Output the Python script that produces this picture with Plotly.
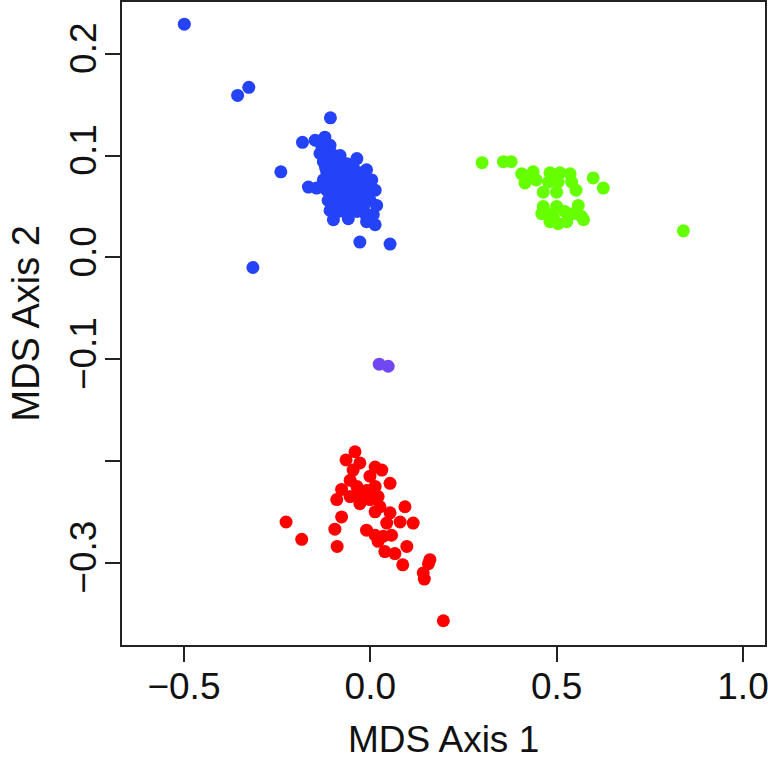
import plotly.graph_objects as go

# MDS coordinates
blue_x = [-0.148, -0.122, -0.130, -0.108, -0.104, -0.081, -0.126, -0.108, -0.086, -0.063,
          -0.046, -0.117, -0.095, -0.072, -0.050, -0.028, -0.010, -0.126, -0.104, -0.081,
          -0.059, -0.036, -0.014, 0.004, -0.144, -0.166, -0.117, -0.095, -0.072, -0.050,
          -0.028, -0.005, 0.013, -0.113, -0.090, -0.068, -0.046, -0.023, -0.001, 0.017,
          -0.108, -0.086, -0.063, -0.036, -0.014, 0.008, -0.099, -0.059, -0.010, 0.013,
          -0.036, -0.028, 0.053, -0.107, -0.182, -0.240, -0.499, -0.356, -0.326, -0.315,
          -0.120, -0.098, -0.076, -0.054, -0.032, -0.110, -0.088, -0.066, -0.044, -0.022,
          -0.135, -0.115, -0.093, -0.070, -0.040, -0.018]
blue_y = [0.115, 0.118, 0.109, 0.110, 0.102, 0.100, 0.094, 0.092, 0.091, 0.092,
          0.089, 0.084, 0.083, 0.083, 0.081, 0.083, 0.086, 0.076, 0.074, 0.073,
          0.071, 0.073, 0.074, 0.076, 0.068, 0.069, 0.066, 0.065, 0.063, 0.063,
          0.065, 0.066, 0.066, 0.056, 0.055, 0.053, 0.053, 0.055, 0.056, 0.051,
          0.046, 0.045, 0.043, 0.045, 0.043, 0.042, 0.037, 0.038, 0.035, 0.032,
          0.097, 0.015, 0.013, 0.137, 0.113, 0.084, 0.229, 0.159, 0.167, -0.010,
          0.088, 0.087, 0.078, 0.077, 0.079, 0.070, 0.069, 0.068, 0.067, 0.060,
          0.102, 0.097, 0.096, 0.058, 0.048, 0.050]

green_x = [0.300, 0.357, 0.378, 0.406, 0.415, 0.437, 0.445, 0.482, 0.478, 0.509,
           0.504, 0.536, 0.540, 0.598, 0.625, 0.464, 0.500, 0.552, 0.464, 0.460,
           0.482, 0.500, 0.504, 0.522, 0.527, 0.558, 0.567, 0.572, 0.840, 0.428,
           0.491, 0.473, 0.545, 0.491]
green_y = [0.093, 0.094, 0.094, 0.082, 0.073, 0.084, 0.076, 0.083, 0.074, 0.083,
           0.074, 0.082, 0.074, 0.078, 0.068, 0.064, 0.064, 0.066, 0.050, 0.043,
           0.035, 0.050, 0.033, 0.045, 0.035, 0.051, 0.040, 0.037, 0.026, 0.079,
           0.078, 0.043, 0.043, 0.040]

red_x = [-0.041, -0.065, -0.028, -0.046, 0.013, 0.031, 0.053, -0.054, -0.001, -0.077,
         -0.036, -0.010, 0.013, -0.090, -0.054, -0.028, -0.001, 0.021, 0.026, 0.013,
         0.053, 0.093, 0.115, 0.080, 0.044, -0.077, -0.095, -0.226, -0.184, -0.089,
         -0.010, 0.013, 0.035, 0.057, 0.098, 0.039, 0.066, 0.087, 0.160, 0.156,
         0.142, 0.145, 0.196, 0.021, -0.019, -0.001, -0.028]
red_y = [-0.191, -0.199, -0.202, -0.209, -0.206, -0.209, -0.222, -0.219, -0.215, -0.228,
         -0.225, -0.229, -0.225, -0.238, -0.235, -0.242, -0.238, -0.235, -0.245, -0.250,
         -0.251, -0.245, -0.261, -0.260, -0.261, -0.255, -0.267, -0.260, -0.277, -0.284,
         -0.268, -0.273, -0.274, -0.273, -0.284, -0.289, -0.291, -0.302, -0.297, -0.301,
         -0.310, -0.316, -0.357, -0.279, -0.235, -0.229, -0.232]

purple_x = [0.024, 0.048]
purple_y = [-0.105, -0.107]

x_ticks = [-0.5, 0.0, 0.5, 1.0]
x_tick_text = ["\u22120.5", "0.0", "0.5", "1.0"]
y_ticks = [0.2, 0.1, 0.0, -0.1, -0.2, -0.3]
y_tick_text = ["0.2", "0.1", "0.0", "\u22120.1", "", "\u22120.3"]

groups = [
    (blue_x, blue_y, "#2443F7"),
    (green_x, green_y, "#66FF00"),
    (red_x, red_y, "#FF0000"),
    (purple_x, purple_y, "#7047F0"),
]

fig = go.Figure()
for xs, ys, col in groups:
    fig.add_trace(go.Scatter(x=xs, y=ys, mode="markers",
                             marker=dict(size=13, color=col, line=dict(width=0)),
                             showlegend=False, hoverinfo="x+y"))

FONT = "Liberation Sans, Arial, Helvetica, sans-serif"
axis_common = dict(showgrid=False, zeroline=False, showline=True, mirror=True,
                   automargin=False, ticklabeloverflow="allow",
                   linecolor="#222222", linewidth=1.6, ticks="outside", ticklen=15,
                   tickwidth=1.6, tickcolor="#222222",
                   tickfont=dict(family=FONT, size=37, color="#111111"))

fig.update_layout(
    width=768, height=760,
    margin=dict(l=122, r=3, t=2, b=115, autoexpand=False),
    paper_bgcolor="white", plot_bgcolor="white",
    xaxis=dict(range=[-0.6662, 1.0590], tickmode="array", tickvals=x_ticks,
               ticktext=x_tick_text, ticklabelstandoff=-7, **axis_common),
    yaxis=dict(range=[-0.3808, 0.2508], tickmode="array", tickvals=y_ticks,
               ticktext=y_tick_text, tickangle=-90, ticklabelstandoff=-6, **axis_common),
    annotations=[
        dict(text="MDS Axis 1", xref="paper", yref="paper", x=0.5, y=0,
             yshift=-94, xanchor="center", yanchor="middle", showarrow=False,
             font=dict(family=FONT, size=37, color="#111111")),
        dict(text="MDS Axis 2", xref="paper", yref="paper", x=0, y=0.5,
             xshift=-97, xanchor="center", yanchor="middle", textangle=-90,
             showarrow=False, font=dict(family=FONT, size=38, color="#111111")),
    ],
)

fig.write_html("out.html", config={"displayModeBar": False},
               post_script="document.body.style.margin='0';document.body.style.overflow='hidden';")
